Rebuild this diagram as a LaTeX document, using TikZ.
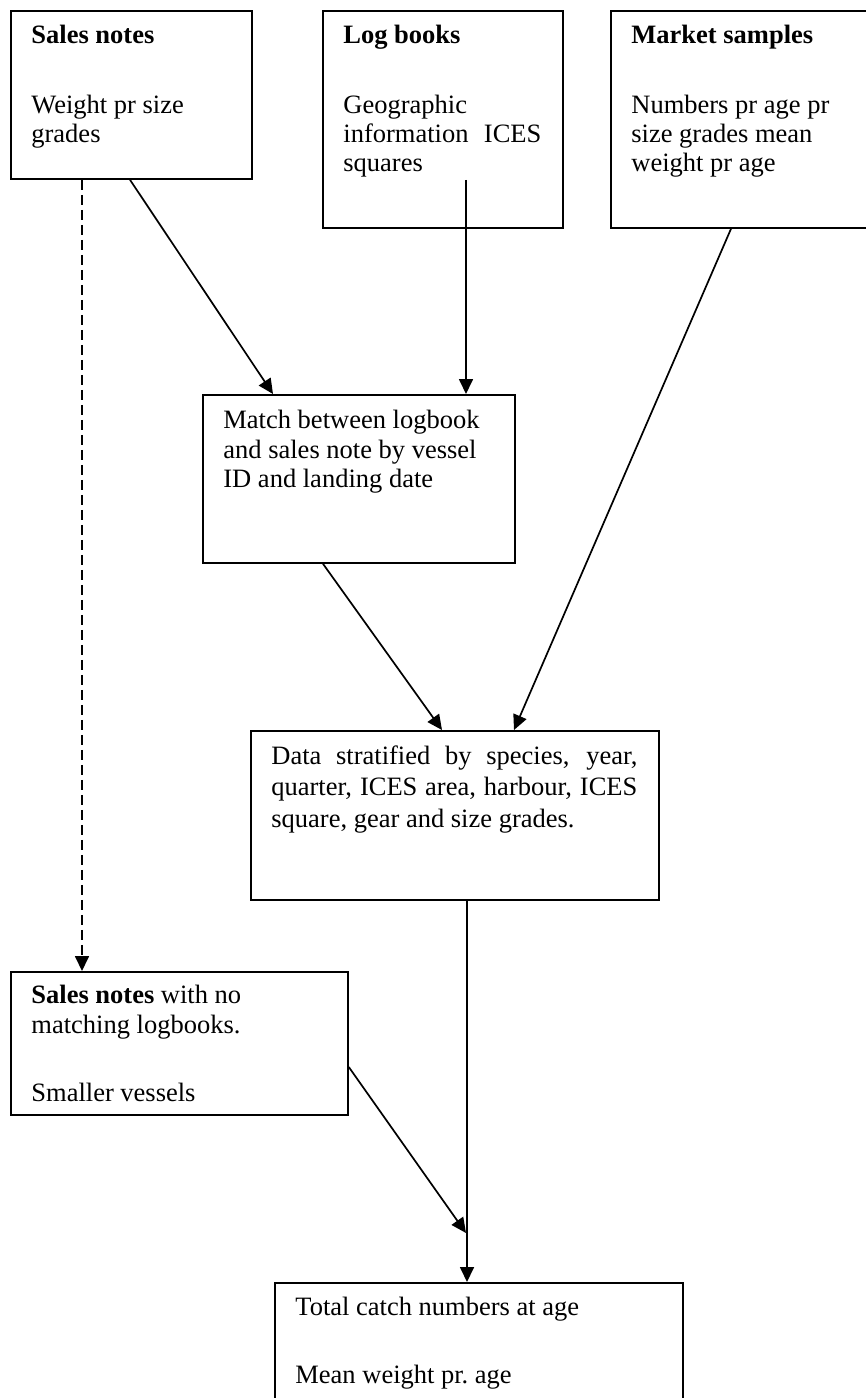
\documentclass[tikz,border=0pt]{standalone}
\usepackage{fontspec}
\setmainfont{Liberation Serif}
\usepackage{tikz}
\usetikzlibrary{arrows.meta}
\tikzset{
  box/.style={draw=black, line width=0.9pt, rectangle, inner sep=0pt, anchor=north west},
  txt/.style={anchor=north west, inner sep=0pt, align=left, font=\fontsize{13.25}{14.5}\selectfont,
    execute at begin node={\rule{0pt}{10pt}}},
  link/.style={draw=black, line width=0.85pt, -{Triangle[length=7.5pt,width=7pt]}},
  weak/.style={link, dash pattern=on 5pt off 2.5pt}
}

\begin{document}
\begin{tikzpicture}[x=0.5pt,y=-0.5pt]
  \useasboundingbox (0,0) rectangle (866,1398);

  % boxes
  \node[box, minimum width=120.5pt, minimum height=84pt] (sales) at (10,10) {};
  \node[box, minimum width=120pt, minimum height=108.5pt] (logb) at (322,10) {};
  \node[box, minimum width=135pt, minimum height=108.5pt] (market) at (610,10) {};
  \node[box, minimum width=156pt, minimum height=84pt] (match) at (202,394) {};
  \node[box, minimum width=204pt, minimum height=84.5pt] (strat) at (250,730) {};
  \node[box, minimum width=168.5pt, minimum height=71.5pt] (nomatch) at (10,971) {};
  \node[box, minimum width=204pt, minimum height=70pt] (total) at (274,1282) {};

  % texts (first baseline 20px below the given point)
  \node[txt] (salesT) at (31,25) {\textbf{Sales notes}\\[20.5pt]Weight pr size\\grades};
  \node[txt] (logbT) at (343,25) {\textbf{Log books}\\[20.5pt]Geographic\\\makebox[99pt][s]{information ICES}\\squares};
  \node[txt] (marketT) at (631,25) {\textbf{Market samples}\\[20.5pt]Numbers pr age pr\\size grades mean\\weight pr age};
  \node[txt, font=\fontsize{13.25}{14.75}\selectfont] (matchT) at (223,410) {Match between logbook\\and sales note by vessel\\ID and landing date};
  \node[txt, font=\fontsize{13.25}{15.75}\selectfont] (stratT) at (271,745)
    {\makebox[183pt][s]{Data stratified by species, year,}\\\makebox[183pt][s]{quarter, ICES area, harbour, ICES}\\square, gear and size grades.};
  \node[txt, font=\fontsize{13.25}{15}\selectfont] (nomatchT) at (31,985) {\textbf{Sales notes} with no\\matching logbooks.\\[19pt]Smaller vessels};
  \node[txt, font=\fontsize{13.25}{15}\selectfont] (totalT) at (295,1297) {Total catch numbers at age\\[19pt]Mean weight pr.\ age};

  % connectors
  \coordinate (join) at (466,1233);
  \draw[weak] ([xshift=36pt]sales.south west) -- ([xshift=36pt]nomatch.north west);
  \draw[link] ([xshift=60pt]sales.south west) -- ([xshift=35.5pt]match.north west);
  \draw[link] ([xshift=72pt,yshift=24.5pt]logb.south west) -- ([xshift=132pt]match.north west);
  \draw[link] ([xshift=60.5pt]market.south west) -- ([xshift=132pt]strat.north west);
  \draw[link] ([xshift=60.5pt]match.south west) -- ([xshift=96pt]strat.north west);
  \draw[link] ([xshift=108.5pt]strat.south west) -- ([xshift=96.5pt]total.north west);
  \draw[link] ([yshift=-48pt]nomatch.north east) -- (join);
\end{tikzpicture}
\end{document}
